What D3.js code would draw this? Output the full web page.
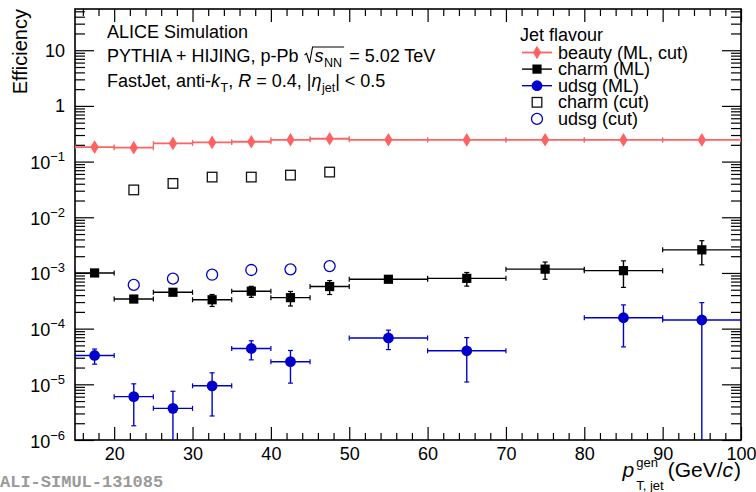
<!DOCTYPE html>
<html>
<head>
<meta charset="utf-8">
<script src="https://cdn.jsdelivr.net/npm/d3@7"></script>
<style>
  html, body { margin: 0; padding: 0; background: #fff; }
  svg { display: block; font-family: "Liberation Sans", Arial, Helvetica, sans-serif; }
  svg text { white-space: pre; }
</style>
</head>
<body>
<svg id="chart" width="756" height="492"></svg>
<script>
// ---- data ---------------------------------------------------------------
// jet pT bins (GeV/c): centre and half width
const binCentres    = [17.5, 22.5, 27.5, 32.5, 37.5, 42.5, 47.5, 55, 65, 75, 85, 95];
const binHalfWidths = [2.5, 2.5, 2.5, 2.5, 2.5, 2.5, 2.5, 5, 5, 5, 5, 5];

// tagging efficiency per flavour (null = no entry in that bin)
const beautyEff = [0.182, 0.178, 0.212, 0.221, 0.227, 0.246, 0.257, 0.246, 0.245, 0.246, 0.245, 0.245];
const beautyErr = [0.004, 0.004, 0.004, 0.004, 0.004, 0.004, 0.004, 0.004, 0.004, 0.004, 0.004, 0.004];

const charmMLEff = [1.0e-3, 3.4e-4, 4.5e-4, 3.3e-4, 4.7e-4, 3.6e-4, 5.7e-4, 7.7e-4, 8.0e-4, 1.17e-3, 1.1e-3, 2.6e-3];
const charmMLErr = [0.3e-4, 0.3e-4, 0.5e-4, 0.8e-4, 1.05e-4, 1.05e-4, 1.6e-4, 0.6e-4, 2.2e-4, 4.0e-4, 5.5e-4, 1.2e-3];

const udsgMLEff = [3.3e-5, 6.0e-6, 3.7e-6, 9.4e-6, 4.4e-5, 2.55e-5, null, 6.8e-5, 4.0e-5, null, 1.57e-4, 1.43e-4];
const udsgMLErr = [1.0e-5, 4.2e-6, 3.8e-6, 6.7e-6, 1.65e-5, 1.5e-5, null, 2.6e-5, 2.9e-5, null, 1.1e-4, 1.5e-4];

const charmCutEff = [null, 0.031, 0.0405, 0.0527, 0.0527, 0.0572, 0.0648, null, null, null, null, null];
const udsgCutEff  = [null, 6.1e-4, 7.9e-4, 9.3e-4, 1.13e-3, 1.16e-3, 1.33e-3, null, null, null, null, null];

// axis ticks and labels
const xMajorTicks = [20, 30, 40, 50, 60, 70, 80, 90, 100];
const yMajorTicks = [1e-6, 1e-5, 1e-4, 1e-3, 1e-2, 1e-1, 1, 10];
const yTickLabels = [["10", "\u22126"], ["10", "\u22125"], ["10", "\u22124"], ["10", "\u22123"],
                     ["10", "\u22122"], ["10", "\u22121"], ["1", null], ["10", null]];

const legendHeader = "Jet flavour";
const legendLabels = ["beauty (ML, cut)", "charm (ML)", "udsg (ML)", "charm (cut)", "udsg (cut)"];

// ---- layout -------------------------------------------------------------
const W = 756, H = 492;
const plot = { left: 75, right: 741, top: 9, bottom: 440 };
const X_MIN = 15, X_MAX = 100, Y_MIN = 1e-6, Y_MAX = 55;

const RED = "#ff6262", BLUE = "#0000cc", BLACK = "#000";

const svg = d3.select("#chart");
svg.append("rect").attr("width", W).attr("height", H).attr("fill", "#fff");

const x = d3.scaleLinear().domain([X_MIN, X_MAX]).range([plot.left, plot.right]);
const y = d3.scaleLog().domain([Y_MIN, Y_MAX]).range([plot.bottom, plot.top]);

// minor tick positions
const xMinorTicks = d3.range(16, 100, 2).filter(v => v % 10 !== 0);
const yMinorTicks = [];
yMajorTicks.forEach(d => { for (let k = 2; k <= 9; k++) if (k * d <= Y_MAX) yMinorTicks.push(k * d); });

// ---- axes (ticks point inwards on all four sides) -----------------------
function styleAxis(g) {
  g.select(".domain").remove();
  g.selectAll(".tick line").attr("stroke", BLACK).attr("stroke-width", 1.2);
  g.selectAll(".tick text").attr("font-size", 18).attr("fill", BLACK)
    .attr("font-family", "'Liberation Sans', Arial, Helvetica, sans-serif");
}

svg.append("g").attr("transform", `translate(0,${plot.bottom})`)
  .call(d3.axisBottom(x).tickValues(xMajorTicks).tickSize(-13).tickPadding(7).tickFormat(d3.format("d")))
  .call(styleAxis);
svg.append("g").attr("transform", `translate(0,${plot.bottom})`)
  .call(d3.axisBottom(x).tickValues(xMinorTicks).tickSize(-7).tickFormat(""))
  .call(styleAxis);
svg.append("g").attr("transform", `translate(0,${plot.top})`)
  .call(d3.axisTop(x).tickValues(xMajorTicks).tickSize(-13).tickFormat(""))
  .call(styleAxis);
svg.append("g").attr("transform", `translate(0,${plot.top})`)
  .call(d3.axisTop(x).tickValues(xMinorTicks).tickSize(-7).tickFormat(""))
  .call(styleAxis);

svg.append("g").attr("transform", `translate(${plot.left},0)`)
  .call(d3.axisLeft(y).tickValues(yMajorTicks).tickSize(-19).tickFormat(""))
  .call(styleAxis);
svg.append("g").attr("transform", `translate(${plot.left},0)`)
  .call(d3.axisLeft(y).tickValues(yMinorTicks).tickSize(-10).tickFormat(""))
  .call(styleAxis);
svg.append("g").attr("transform", `translate(${plot.right},0)`)
  .call(d3.axisRight(y).tickValues(yMajorTicks).tickSize(-19).tickFormat(""))
  .call(styleAxis);
svg.append("g").attr("transform", `translate(${plot.right},0)`)
  .call(d3.axisRight(y).tickValues(yMinorTicks).tickSize(-10).tickFormat(""))
  .call(styleAxis);

// y tick labels with power-of-ten exponents
const yLab = svg.append("g").attr("font-size", 18).attr("text-anchor", "end");
yMajorTicks.forEach((v, i) => {
  const [base, expo] = yTickLabels[i];
  const t = yLab.append("text").attr("x", 65).attr("y", y(v) + (expo ? 7.5 : 6.5));
  t.append("tspan").text(base);
  if (expo) t.append("tspan").attr("font-size", 13).attr("dy", -8).text(expo);
});

// frame
svg.append("rect")
  .attr("x", plot.left).attr("y", plot.top)
  .attr("width", plot.right - plot.left).attr("height", plot.bottom - plot.top)
  .attr("fill", "none").attr("stroke", BLACK).attr("stroke-width", 1.6);

// ---- markers --------------------------------------------------------------
const markers = {
  diamond: (g, c) => g.append("path").attr("d", "M0,-6.8L4.2,0L0,6.8L-4.2,0Z").attr("fill", c),
  square: (g, c) => g.append("rect").attr("x", -4.6).attr("y", -4.6).attr("width", 9.2).attr("height", 9.2).attr("fill", c),
  circle: (g, c) => g.append("circle").attr("r", 5.4).attr("fill", c),
  openSquare: (g, c) => g.append("rect").attr("x", -4.8).attr("y", -4.8).attr("width", 9.6).attr("height", 9.6)
                          .attr("fill", "none").attr("stroke", c).attr("stroke-width", 1.3),
  openCircle: (g, c) => g.append("circle").attr("r", 5.5).attr("fill", "none").attr("stroke", c).attr("stroke-width", 1.3)
};

svg.append("clipPath").attr("id", "plotClip").append("rect")
  .attr("x", plot.left).attr("y", plot.top)
  .attr("width", plot.right - plot.left).attr("height", plot.bottom - plot.top);

const dataLayer = svg.append("g").attr("clip-path", "url(#plotClip)");

function drawSeries(vals, errs, marker, colour, opts = {}) {
  const g = dataLayer.append("g");
  const lw = opts.lineWidth || 1.4;
  const cap = 2.5;
  vals.forEach((v, i) => {
    if (v == null) return;
    const cx = x(binCentres[i]), cy = y(v);
    if (opts.errors) {
      const x0 = x(binCentres[i] - binHalfWidths[i]), x1 = x(binCentres[i] + binHalfWidths[i]);
      g.append("line").attr("x1", x0).attr("x2", x1).attr("y1", cy).attr("y2", cy)
        .attr("stroke", colour).attr("stroke-width", lw);
      [x0, x1].forEach(xe => g.append("line").attr("x1", xe).attr("x2", xe)
        .attr("y1", cy - cap).attr("y2", cy + cap).attr("stroke", colour).attr("stroke-width", 1.2));
      const e = errs[i];
      const lo = v - e, hi = v + e;
      const yHi = y(hi);
      const yLo = lo > 0 ? y(lo) : plot.bottom + 2;
      g.append("line").attr("x1", cx).attr("x2", cx).attr("y1", yHi).attr("y2", yLo)
        .attr("stroke", colour).attr("stroke-width", 1.4);
      g.append("line").attr("x1", cx - cap).attr("x2", cx + cap).attr("y1", yHi).attr("y2", yHi)
        .attr("stroke", colour).attr("stroke-width", 1.2);
      if (lo > 0) g.append("line").attr("x1", cx - cap).attr("x2", cx + cap).attr("y1", yLo).attr("y2", yLo)
        .attr("stroke", colour).attr("stroke-width", 1.2);
    }
    const m = g.append("g").attr("transform", `translate(${cx},${cy})`);
    markers[marker](m, colour);
  });
}

drawSeries(beautyEff, beautyErr, "diamond", RED, { errors: true, lineWidth: 1.8 });
drawSeries(charmMLEff, charmMLErr, "square", BLACK, { errors: true });
drawSeries(udsgMLEff, udsgMLErr, "circle", BLUE, { errors: true });
drawSeries(charmCutEff, null, "openSquare", "#111");
drawSeries(udsgCutEff, null, "openCircle", BLUE);

// ---- text helpers ---------------------------------------------------------
function runs(parent, x0, yBase, parts) {
  let cx = x0;
  parts.forEach(p => {
    if (p.stack) {
      // superscript and subscript stacked at the same position
      let w = 0;
      p.stack.forEach(s => {
        const t = parent.append("text").attr("x", cx).attr("y", yBase + s.dy)
          .attr("font-size", s.size).text(s.t);
        w = Math.max(w, t.node().getComputedTextLength());
      });
      cx += w + (p.gap || 0);
      return;
    }
    const t = parent.append("text").attr("x", cx).attr("y", yBase + (p.dy || 0))
      .attr("font-size", p.size || 18)
      .attr("font-style", p.italic ? "italic" : null)
      .text(p.t);
    const w = t.node().getComputedTextLength();
    cx += w + (p.gap || 0);
  });
  return cx;
}

// ---- annotation block -------------------------------------------------------
const info = svg.append("g").attr("fill", BLACK);
runs(info, 107, 38, [{ t: "ALICE Simulation" }]);

const line2 = info.append("g");
const rootStart = runs(line2, 107, 62, [{ t: "PYTHIA + HIJING, p-Pb " }]);
const endNN = runs(line2, rootStart + 11, 62, [
  { t: "s", italic: true, gap: 0.5 },
  { t: "NN", size: 12.5, dy: 4.5, gap: 1 }
]);
// radical sign over s_NN
line2.append("path")
  .attr("d", `M${rootStart + 1},${62 - 7}L${rootStart + 3},${62 - 8.5}L${rootStart + 6},${62 + 1}L${rootStart + 9},${62 - 15}L${endNN + 1},${62 - 15}`)
  .attr("fill", "none").attr("stroke", BLACK).attr("stroke-width", 1.1);
runs(line2, endNN + 1, 62, [{ t: " = 5.02 TeV" }]);

runs(info, 107, 87, [
  { t: "FastJet, anti-" },
  { t: "k", italic: true, gap: 0.5 },
  { t: "T", size: 12.5, dy: 4.5 },
  { t: ", " },
  { t: "R", italic: true },
  { t: " = 0.4, |" },
  { t: "\u03b7", italic: true, gap: 0.5 },
  { t: "jet", size: 12.5, dy: 5 },
  { t: "| < 0.5" }
]);

// ---- legend -------------------------------------------------------------------
const leg = svg.append("g");
leg.append("text").attr("x", 520).attr("y", 41).attr("font-size", 18).text(legendHeader);
const legendStyles = [
  { marker: "diamond", colour: RED, line: true },
  { marker: "square", colour: BLACK, line: true },
  { marker: "circle", colour: BLUE, line: true },
  { marker: "openSquare", colour: "#111", line: false },
  { marker: "openCircle", colour: BLUE, line: false }
];
legendLabels.forEach((lab, i) => {
  const base = 58.5 + i * 16.6;
  const my = base - 6;
  const st = legendStyles[i];
  if (st.line) {
    leg.append("line").attr("x1", 522).attr("x2", 552).attr("y1", my).attr("y2", my)
      .attr("stroke", st.colour).attr("stroke-width", i === 0 ? 1.8 : 1.4);
  }
  const m = leg.append("g").attr("transform", `translate(537,${my})`);
  markers[st.marker](m, st.colour);
  leg.append("text").attr("x", 558).attr("y", base).attr("font-size", 18).text(lab);
});

// ---- axis titles ----------------------------------------------------------------
svg.append("text")
  .attr("transform", `translate(27,9) rotate(-90)`)
  .attr("text-anchor", "end").attr("font-size", 20).text("Efficiency");

const xt = svg.append("g");
const xtEnd = runs(xt, 0, 477, [
  { t: "p", italic: true, size: 21, gap: 2 },
  { stack: [{ t: "gen", size: 13, dy: -10 }, { t: "T, jet", size: 13, dy: 13 }], gap: 4 },
  { t: "(GeV/", size: 21 },
  { t: "c", italic: true, size: 21, gap: 1 },
  { t: ")", size: 21 }
]);
xt.attr("transform", `translate(${plot.right - xtEnd},0)`);

// ---- figure id ------------------------------------------------------------------
svg.append("text").attr("x", 0).attr("y", 487)
  .attr("font-family", "'Liberation Mono', 'Courier New', monospace")
  .attr("font-weight", "bold").attr("font-size", 17).attr("fill", "#9a9a9a")
  .text("ALI-SIMUL-131085");
</script>
</body>
</html>
